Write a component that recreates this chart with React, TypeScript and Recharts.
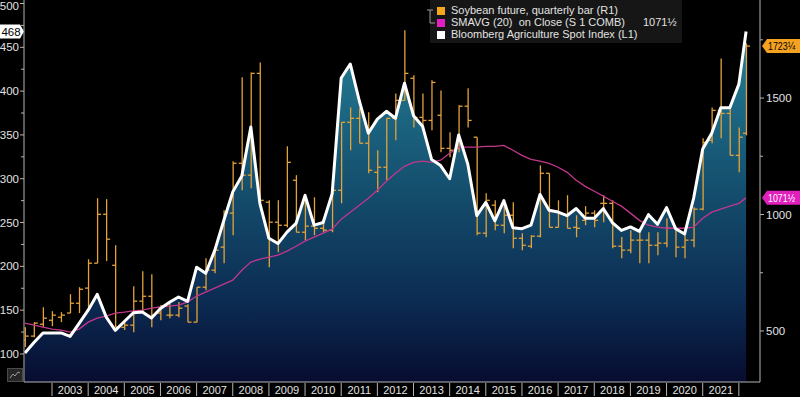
import React from 'react';
import { ComposedChart, Area, Line, Bar, XAxis, YAxis, ReferenceLine } from 'recharts';

// ---------- categories ----------
const FIRST_QUARTER_END = 2002.25;
const LAST_DATE = 2022.2;
const quarterEnds: number[] = Array.from({ length: 80 }, (_, i) => FIRST_QUARTER_END + i * 0.25).concat([LAST_DATE]);
const yearLabels = ['2003', '2004', '2005', '2006', '2007', '2008', '2009', '2010', '2011', '2012', '2013', '2014', '2015', '2016', '2017', '2018', '2019', '2020', '2021'];
const yearSeparators = [2003, 2004, 2005, 2006, 2007, 2008, 2009, 2010, 2011, 2012, 2013, 2014, 2015, 2016, 2017, 2018, 2019, 2020, 2021, 2022];
const leftTicks = [100, 125, 150, 175, 200, 225, 250, 275, 300, 325, 350, 375, 400, 425, 450, 475, 500];
const rightTicks = [500, 750, 1000, 1250, 1500, 1750];
const rightLabelled = [500, 1000, 1500];

// ---------- series ----------
// Bloomberg Agriculture Spot Index (L1)
const indexValues = [
  101, 113, 124, 124, 124, 120, 135, 150, 168, 142, 127, 137, 147, 148, 141, 152,
  159, 165, 160, 199, 192, 218, 252, 285, 303, 359, 272, 232, 226, 239, 249, 281,
  247, 250, 283, 415, 431, 389, 352, 368, 377, 369, 409, 372, 360, 322, 315, 300,
  350, 317, 258, 273, 252, 275, 244, 243, 247, 282, 264, 262, 258, 266, 255, 255,
  266, 250, 241, 245, 240, 259, 248, 267, 243, 237, 278, 334, 352, 381, 381, 408,
  468,
];
// SMAVG (20) on Close (R1)
const smaValues = [
  534, 525, 517, 508, 504, 495, 508, 538, 555, 564, 577, 581, 586, 590, 598, 603,
  607, 611, 624, 650, 667, 684, 701, 718, 761, 796, 809, 817, 826, 843, 864, 886,
  903, 920, 937, 980, 1010, 1040, 1070, 1104, 1143, 1177, 1207, 1224, 1229, 1224, 1233, 1263,
  1289, 1289, 1289, 1293, 1293, 1297, 1276, 1254, 1237, 1229, 1220, 1203, 1181, 1147, 1121, 1100,
  1079, 1057, 1036, 1006, 975, 954, 946, 941, 941, 941, 946, 984, 1010, 1023, 1036, 1048,
  1071.5,
];
// Soybean future, quarterly bar (R1)
const soyOpen = [
  461, 478, 529, 546, 559, 577, 619, 684, 791, 1001, 782, 516, 525, 628, 649, 577,
  568, 568, 607, 538, 688, 761, 860, 1006, 1220, 1169, 1606, 1053, 967, 954, 1147, 924,
  950, 941, 933, 1104, 1396, 1413, 1306, 1181, 1203, 1413, 1490, 1585, 1417, 1404, 1426, 1284,
  1284, 1465, 1332, 920, 1040, 954, 997, 898, 864, 907, 1177, 945, 997, 945, 975, 1006,
  1048, 1048, 864, 847, 890, 890, 868, 877, 941, 860, 890, 1023, 1319, 1447, 1434, 1254,
  1349,
];
const soyHigh = [
  516, 538, 602, 585, 581, 658, 688, 808, 1070, 1066, 868, 538, 692, 757, 744, 611,
  619, 624, 615, 688, 812, 860, 1018, 1229, 1589, 1610, 1653, 1061, 1061, 1293, 1169, 1083,
  1074, 984, 1147, 1396, 1460, 1456, 1439, 1276, 1413, 1520, 1791, 1598, 1520, 1576, 1533, 1353,
  1469, 1542, 1332, 1091, 1061, 1053, 1053, 920, 911, 1211, 1177, 1061, 1083, 997, 1036, 1018,
  1083, 1061, 903, 933, 933, 924, 924, 984, 945, 920, 1031, 1327, 1460, 1670, 1456, 1374,
  1735,
];
const soyLow = [
  431, 473, 516, 521, 538, 577, 577, 598, 791, 800, 516, 504, 495, 577, 516, 546,
  555, 559, 538, 538, 675, 748, 791, 911, 1104, 1113, 1048, 774, 838, 945, 924, 890,
  911, 924, 924, 1048, 1276, 1306, 1177, 1096, 1147, 1319, 1490, 1374, 1374, 1362, 1267, 1246,
  1267, 1374, 911, 902, 933, 920, 855, 847, 855, 902, 945, 945, 941, 902, 954, 945,
  967, 855, 812, 834, 791, 791, 825, 860, 817, 812, 860, 1018, 1306, 1327, 1254, 1181,
  1340,
];
const soyClose = [
  478, 534, 555, 568, 568, 619, 679, 791, 1001, 894, 516, 525, 628, 649, 568, 607,
  568, 598, 538, 688, 761, 847, 1006, 1220, 1169, 1606, 1061, 967, 954, 1224, 924, 950,
  941, 933, 1104, 1396, 1413, 1306, 1190, 1203, 1413, 1490, 1606, 1417, 1404, 1567, 1284, 1276,
  1465, 1404, 920, 1061, 954, 997, 898, 868, 907, 1177, 945, 1006, 941, 941, 1006, 975,
  1048, 864, 847, 890, 890, 868, 877, 941, 860, 890, 1023, 1310, 1447, 1434, 1254, 1332,
  1723.25,
];

const lastIndexText = '468';
const lastSoyText = '1723¼';
const lastSmaText = '1071½';

const data = quarterEnds.map((t, i) => ({
  t,
  index: indexValues[i],
  sma: smaValues[i],
  range: [soyLow[i], soyHigh[i]],
  open: soyOpen[i],
  high: soyHigh[i],
  low: soyLow[i],
  close: soyClose[i],
}));

const FONT = '"Liberation Sans", Arial, sans-serif';
const AXIS_COLOR = '#b4b4b4';
const TEXT_COLOR = '#e2e2e2';
const BAR_COLOR = '#e3a23a';
const SMA_COLOR = '#c2378c';

const OhlcShape = (props: any) => {
  const { x, y, width, height, payload } = props;
  if (x == null || y == null || !payload) return null;
  const top = Math.min(y, y + height);
  const bottom = Math.max(y, y + height);
  const { open, close, high, low } = payload;
  const span = high - low || 1;
  const yOf = (v: number) => top + ((high - v) / span) * (bottom - top);
  const cx = x + width / 2;
  return (
    <g stroke={BAR_COLOR} strokeWidth={1.3} fill="none">
      <line x1={cx} x2={cx} y1={top} y2={bottom} />
      <line x1={cx - 3.5} x2={cx} y1={yOf(open)} y2={yOf(open)} />
      <line x1={cx} x2={cx + 3.5} y1={yOf(close)} y2={yOf(close)} />
    </g>
  );
};

const LeftTick = (props: any) => {
  const { x, y, payload } = props;
  const v = payload.value;
  const major = v % 50 === 0;
  const ty = Math.max(y, 6);
  return (
    <g>
      <line x1={major ? x - 4 : x - 3} x2={x} y1={y} y2={y} stroke={AXIS_COLOR} />
      {major && (
        <text x={x - 5} y={ty} dy="0.36em" textAnchor="end" fill={TEXT_COLOR} fontSize={11.5} fontFamily={FONT}>
          {v}
        </text>
      )}
    </g>
  );
};

const RightTick = (props: any) => {
  const { x, y, payload } = props;
  const v = payload.value;
  const major = rightLabelled.includes(v);
  return (
    <g>
      <line x1={x} x2={major ? x + 4 : x + 3} y1={y} y2={y} stroke={AXIS_COLOR} />
      {major && (
        <text x={x + 6} y={y} dy="0.36em" textAnchor="start" fill={TEXT_COLOR} fontSize={11.5} fontFamily={FONT}>
          {v}
        </text>
      )}
    </g>
  );
};

const XTick = (props: any) => {
  const { x, y, payload } = props;
  const v = payload.value;
  if (Number.isInteger(v)) {
    return <line x1={x} x2={x} y1={y + 1} y2={y + 14} stroke={AXIS_COLOR} />;
  }
  return (
    <text x={x} y={y + 8} dy="0.36em" textAnchor="middle" fill={TEXT_COLOR} fontSize={11} fontFamily={FONT}>
      {String(Math.floor(v))}
    </text>
  );
};

const leftTag = (text: string) => (props: any) => {
  const vb = props.viewBox || {};
  const x = vb.x;
  const y = vb.y;
  if (x == null || y == null) return null;
  return (
    <g>
      <path d={`M${x - 24},${y - 7} H${x - 4} L${x},${y} L${x - 4},${y + 7} H${x - 24} Z`} fill="#ffffff" />
      <text x={x - 13} y={y} dy="0.36em" textAnchor="middle" fontSize={11.5} fontFamily={FONT} fill="#000">
        {text}
      </text>
    </g>
  );
};

const rightTag = (text: string, bg: string, fg: string) => (props: any) => {
  const vb = props.viewBox || {};
  if (vb.x == null || vb.y == null) return null;
  const x = vb.x + vb.width;
  const y = vb.y;
  return (
    <g>
      <path d={`M${x + 2},${y} L${x + 7},${y - 7} H${x + 40} V${y + 7} H${x + 7} Z`} fill={bg} />
      <text
        x={x + 8}
        y={y}
        dy="0.36em"
        textAnchor="start"
        fontSize={10.5}
        fontFamily={FONT}
        fill={fg}
        textLength={27}
        lengthAdjust="spacingAndGlyphs"
      >
        {text}
      </text>
    </g>
  );
};

const labelTicks = yearLabels.map((y) => Number(y) + 0.5);
const xTicks = [...yearSeparators, ...labelTicks].sort((a, b) => a - b);

const legendRow: React.CSSProperties = {
  position: 'absolute',
  left: 7,
  height: 11,
  lineHeight: '11px',
  fontSize: 11,
  color: TEXT_COLOR,
  whiteSpace: 'pre',
  display: 'flex',
  alignItems: 'center',
};
const sq = (c: string): React.CSSProperties => ({ width: 8, height: 8, background: c, marginRight: 6, flex: 'none' });

export default function App() {
  return (
    <div style={{ position: 'absolute', left: 0, top: 0, width: 800, height: 397, background: '#000', overflow: 'hidden', fontFamily: FONT }}>
      <ComposedChart width={800} height={397} data={data} margin={{ top: 0, right: 0, bottom: 0, left: 0 }}>
        <defs>
          <linearGradient id="aggFill" x1="0" y1="0" x2="0" y2="1">
            <stop offset="0" stopColor="#237e96" />
            <stop offset="0.2" stopColor="#1d6a84" />
            <stop offset="0.48" stopColor="#134b6b" />
            <stop offset="0.77" stopColor="#0c2b52" />
            <stop offset="1" stopColor="#070c30" />
          </linearGradient>
        </defs>
        <XAxis
          dataKey="t"
          type="number"
          domain={[2002.225, 2022.585]}
          allowDataOverflow
          ticks={xTicks}
          interval={0}
          tick={<XTick />}
          tickLine={false}
          tickSize={0}
          tickMargin={0}
          height={15}
          axisLine={{ stroke: AXIS_COLOR }}
        />
        <YAxis
          yAxisId="left"
          orientation="left"
          width={24}
          domain={[68, 504]}
          allowDataOverflow
          ticks={leftTicks}
          interval={0}
          tick={<LeftTick />}
          tickLine={false}
          tickSize={0}
          tickMargin={0}
          axisLine={{ stroke: AXIS_COLOR }}
        />
        <YAxis
          yAxisId="right"
          orientation="right"
          width={40}
          domain={[281, 1921]}
          allowDataOverflow
          ticks={rightTicks}
          interval={0}
          tick={<RightTick />}
          tickLine={false}
          tickSize={0}
          tickMargin={0}
          axisLine={{ stroke: AXIS_COLOR }}
        />
        <Area
          yAxisId="left"
          dataKey="index"
          type="linear"
          stroke="none"
          fill="url(#aggFill)"
          fillOpacity={1}
          isAnimationActive={false}
        />
        <Bar yAxisId="right" dataKey="range" barSize={6} shape={<OhlcShape />} isAnimationActive={false} />
        <Line
          yAxisId="right"
          dataKey="sma"
          type="linear"
          stroke={SMA_COLOR}
          strokeWidth={1.3}
          dot={false}
          activeDot={false}
          isAnimationActive={false}
        />
        <Line
          yAxisId="left"
          dataKey="index"
          type="linear"
          stroke="#ffffff"
          strokeWidth={3}
          strokeLinejoin="round"
          dot={false}
          activeDot={false}
          isAnimationActive={false}
        />
        <ReferenceLine yAxisId="left" y={indexValues[indexValues.length - 1]} stroke="none" label={leftTag(lastIndexText)} />
        <ReferenceLine yAxisId="right" y={soyClose[soyClose.length - 1]} stroke="none" label={rightTag(lastSoyText, '#f4a21f', '#000')} />
        <ReferenceLine yAxisId="right" y={smaValues[smaValues.length - 1]} stroke="none" label={rightTag(lastSmaText, '#e01fbd', '#fff')} />
      </ComposedChart>

      {/* legend */}
      <div style={{ position: 'absolute', left: 430, top: 0, width: 252, height: 43, background: '#161616' }}>
        <svg width={12} height={30} style={{ position: 'absolute', left: -6, top: 6 }}>
          <path d="M3,4 H9 M6,4 V17 H11" stroke="#9a9a9a" strokeWidth={1} fill="none" />
        </svg>
        <div style={{ ...legendRow, top: 5 }}>
          <span style={sq('#f5a81c')} />
          <span>Soybean future, quarterly bar (R1)</span>
        </div>
        <div style={{ ...legendRow, top: 17, width: 245 }}>
          <span style={sq('#e21fc2')} />
          <span>SMAVG (20)  on Close (S 1 COMB)</span>
          <span style={{ position: 'absolute', left: 206 }}>{lastSmaText}</span>
        </div>
        <div style={{ ...legendRow, top: 29 }}>
          <span style={sq('#ffffff')} />
          <span>Bloomberg Agriculture Spot Index (L1)</span>
        </div>
      </div>

      {/* small chart-type icon */}
      <svg width={16} height={14} style={{ position: 'absolute', left: 7, top: 368 }}>
        <rect x={0.5} y={0.5} width={15} height={13} fill="#262626" stroke="#4a4a4a" />
        <polyline points="3,10 6,6 8,8 11,4 13,5" stroke="#9a9a9a" strokeWidth={1} fill="none" />
      </svg>
    </div>
  );
}
